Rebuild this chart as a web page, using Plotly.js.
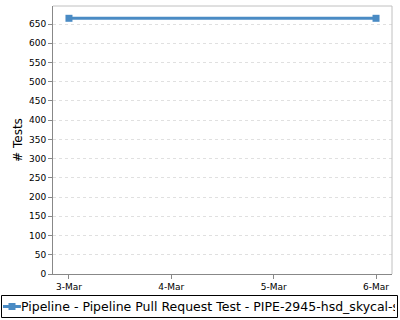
<!DOCTYPE html>
<html>
<head>
<meta charset="utf-8">
<script src="https://cdn.plot.ly/plotly-3.0.1.min.js"></script>
<style>
html,body{margin:0;padding:0;background:#fff;}
#chart{width:400px;height:320px;}
</style>
</head>
<body>
<div id="chart"></div>
<script>
const categories = ["3-Mar", "4-Mar", "5-Mar", "6-Mar"];
const xValues = ["3-Mar", "6-Mar"];
const testCounts = [665, 665];
const seriesName = "Pipeline - Pipeline Pull Request Test - PIPE-2945-hsd_skycal-s";
const yTickValues = [0,50,100,150,200,250,300,350,400,450,500,550,600,650];
const seriesColor = "#4a8bc4";

// plot area in pixels: x 53..392, y 6..274
const px = v => (v - 53) / 339;
const py = v => (274 - v) / 268;

const trace = {
  x: xValues,
  y: testCounts,
  name: seriesName,
  type: "scatter",
  mode: "lines+markers",
  line: {color: seriesColor, width: 3},
  marker: {symbol: "square", size: 7, color: seriesColor},
  showlegend: false,
  cliponaxis: false
};

const layout = {
  width: 400, height: 320,
  margin: {l: 53, r: 8, t: 6, b: 46, autoexpand: false},
  paper_bgcolor: "#ffffff",
  plot_bgcolor: "#ffffff",
  font: {family: "DejaVu Sans", size: 9, color: "#000"},
  showlegend: false,
  xaxis: {
    type: "category",
    categoryorder: "array",
    categoryarray: categories,
    tickvals: categories,
    range: [-0.156, 3.156],
    showgrid: false,
    showline: true, linecolor: "#888", linewidth: 1,
    ticks: "outside", ticklen: 4, tickcolor: "#888",
    tickfont: {family: "DejaVu Sans", size: 9, color: "#000"},
    zeroline: false
  },
  yaxis: {
    range: [0, 697],
    tickvals: yTickValues,
    showgrid: true, gridcolor: "#e0e0e0", griddash: "3px,3px", gridwidth: 1,
    showline: true, linecolor: "#888", linewidth: 1,
    ticks: "outside", ticklen: 4, tickcolor: "#888",
    tickfont: {family: "DejaVu Sans", size: 9, color: "#000"},
    zeroline: false,
    title: {text: "# Tests", font: {family: "DejaVu Sans", size: 12, color: "#000"}, standoff: 3}
  },
  shapes: [
    {type: "line", xref: "paper", yref: "paper", x0: 0, x1: 1, y0: 1, y1: 1, line: {color: "#c0c0c0", width: 1}},
    {type: "line", xref: "paper", yref: "paper", x0: 1, x1: 1, y0: 0, y1: 1, line: {color: "#c0c0c0", width: 1}},
    // legend box
    {type: "rect", xref: "paper", yref: "paper", x0: px(1.5), x1: px(397.5), y0: py(295.5), y1: py(317.5), line: {color: "#000", width: 1}, fillcolor: "rgba(0,0,0,0)"},
    // legend symbol line
    {type: "line", xref: "paper", yref: "paper", x0: px(3), x1: px(21), y0: py(306.5), y1: py(306.5), line: {color: seriesColor, width: 3}},
    // legend symbol marker
    {type: "rect", xref: "paper", yref: "paper", x0: px(8.5), x1: px(15.5), y0: py(303), y1: py(310), line: {width: 0}, fillcolor: seriesColor}
  ],
  annotations: [
    {xref: "paper", yref: "paper", x: px(20), y: py(306.5), xanchor: "left", yanchor: "middle",
     width: 374, align: "left", borderpad: 0,
     text: seriesName, showarrow: false, font: {family: "DejaVu Sans", size: 12.5, color: "#000"}}
  ]
};

Plotly.newPlot("chart", [trace], layout, {displayModeBar: false, staticPlot: true});
</script>
</body>
</html>
